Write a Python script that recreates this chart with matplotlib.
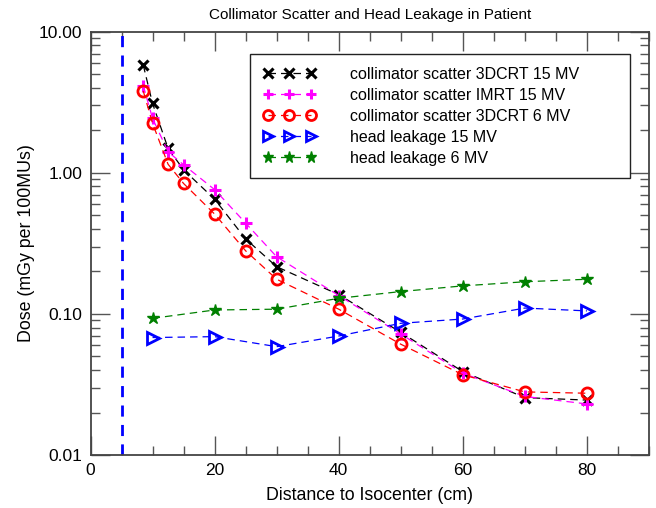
import matplotlib
matplotlib.use("Agg")
import matplotlib.pyplot as plt
from matplotlib.ticker import LogLocator, MultipleLocator, FixedLocator, NullFormatter

plt.rcParams['font.family'] = ['Liberation Sans', 'DejaVu Sans']

# distances (cm)
dist_cs = [8.5, 10, 12.5, 15, 20, 25, 30, 40, 50, 60, 70, 80]
dist_hl = [10, 20, 30, 40, 50, 60, 70, 80]

# dose (mGy per 100MUs)
cs_3dcrt_15 = [5.8, 3.1, 1.49, 1.05, 0.65, 0.34, 0.216, 0.137, 0.074, 0.039, 0.0255, 0.0245]
cs_imrt_15 = [4.15, 2.43, 1.41, 1.14, 0.76, 0.44, 0.254, 0.135, 0.072, 0.038, 0.026, 0.023]
cs_3dcrt_6 = [3.8, 2.24, 1.15, 0.84, 0.51, 0.28, 0.176, 0.108, 0.061, 0.037, 0.028, 0.0274]
hl_15 = [0.068, 0.069, 0.0586, 0.0697, 0.0858, 0.092, 0.11, 0.105]
hl_6 = [0.093, 0.1066, 0.108, 0.129, 0.144, 0.158, 0.169, 0.176]

labels = ["collimator scatter 3DCRT 15 MV", "collimator scatter IMRT 15 MV",
          "collimator scatter 3DCRT 6 MV", "head leakage 15 MV", "head leakage 6 MV"]

fig = plt.figure(figsize=(6.56, 5.08), dpi=100)
ax = fig.add_axes([90.5 / 656, 1 - 455 / 508, 558.5 / 656, 423.3 / 508])

dash = (0, (6, 4))
ax.plot(dist_cs, cs_3dcrt_15, color='black', ls=dash, lw=0.9, marker='x', ms=7.5, mew=2.2, label=labels[0])
ax.plot(dist_cs, cs_imrt_15, color='magenta', ls=dash, lw=0.9, marker='+', ms=8.5, mew=2.2, label=labels[1])
ax.plot(dist_cs, cs_3dcrt_6, color='red', ls=dash, lw=0.9, marker='o', ms=8, mew=2, mfc='none', label=labels[2])
ax.plot(dist_hl, hl_15, color='blue', ls=dash, lw=0.9, marker='>', ms=8, mew=2, mfc='none', label=labels[3])
ax.plot(dist_hl, hl_6, color='green', ls=dash, lw=0.9, marker='*', ms=9, mew=1, label=labels[4])

ax.axvline(5, color='blue', ls=(0, (4, 3)), lw=2)

ax.set_yscale('log')
ax.set_xlim(0, 90)
ax.set_ylim(0.01, 10)
ax.xaxis.set_major_locator(MultipleLocator(20))
ax.xaxis.set_minor_locator(MultipleLocator(5))
ax.yaxis.set_major_locator(FixedLocator([0.01, 0.1, 1, 10]))
ax.yaxis.set_minor_locator(LogLocator(base=10, subs=range(2, 10)))
ax.yaxis.set_minor_formatter(NullFormatter())
ax.set_yticklabels(["0.01", "0.10", "1.00", "10.00"])

ax.tick_params(which='both', direction='in', top=True, right=True, color='#555555', width=1, labelsize=12.5)
ax.tick_params(which='major', length=13.5, pad=6)
ax.tick_params(which='minor', length=6.5)
for s in ax.spines.values():
    s.set_color('#444444')
    s.set_linewidth(1.3)

ax.set_xlabel("Distance to Isocenter (cm)", fontsize=12.8, labelpad=6)
ax.set_ylabel("Dose (mGy per 100MUs)", fontsize=12.8, labelpad=3)
ax.set_title("Collimator Scatter and Head Leakage in Patient", fontsize=11, pad=9)

# legend box spans roughly x 250..630 px, top at 54 px
leg = ax.legend(loc='upper left', bbox_to_anchor=(0.2856, 0.947 - 0.3, 0.680, 0.3),
                mode='expand', borderaxespad=0, markerscale=0.9,
                numpoints=3, handlelength=3.3, handletextpad=2.15, labelspacing=0.37,
                fontsize=11.5, fancybox=False, edgecolor='#222222', framealpha=1,
                borderpad=0.8)
leg.get_frame().set_linewidth(1.0)

fig.savefig("out.png", dpi=100)
